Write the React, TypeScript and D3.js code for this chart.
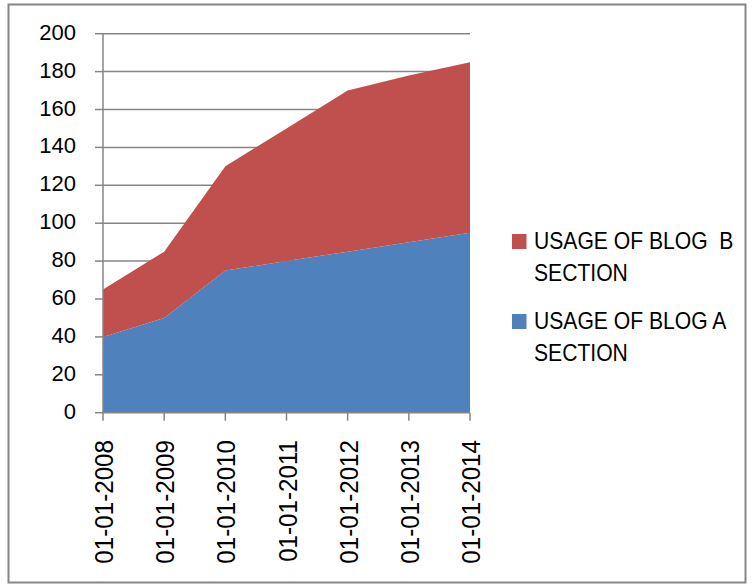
import React from "react";
import * as d3 from "d3";

const categories = ["01-01-2008", "01-01-2009", "01-01-2010", "01-01-2011", "01-01-2012", "01-01-2013", "01-01-2014"];
const blogA = [40, 50, 75, 80, 85, 90, 95];
const blogB = [25, 35, 55, 70, 85, 88, 90];
const yTicks = [0, 20, 40, 60, 80, 100, 120, 140, 160, 180, 200];
const seriesNames = ["USAGE OF BLOG A", "USAGE OF BLOG  B"];
const colors = ["#4F81BD", "#C0504D"];

const W = 752;
const H = 587;
const left = 103;
const right = 470;
const top = 33.7;
const bottom = 412.7;
const font = "'Liberation Sans', Arial, sans-serif";

export default function App() {
  const x = d3.scalePoint<string>().domain(categories).range([left, right]);
  const y = d3.scaleLinear().domain([0, 200]).range([bottom, top]);
  const rows = categories.map((c, i) => ({ c, a: blogA[i], b: blogB[i] }));
  const stack = d3.stack<any>().keys(["a", "b"])(rows);
  const area = d3
    .area<any>()
    .x((d) => x(d.data.c) as number)
    .y0((d) => y(d[0]))
    .y1((d) => y(d[1]));

  const legendItems = [
    { name: seriesNames[1], color: colors[1], y: 234 },
    { name: seriesNames[0], color: colors[0], y: 314 },
  ];

  return (
    <svg width={W} height={H} style={{ position: "absolute", left: 0, top: 0, background: "#fff" }}>
      <rect x={8.5} y={4.5} width={737} height={578} fill="#fff" stroke="#868686" strokeWidth={2} />
      {yTicks.map((t) => (
        <g key={t}>
          {t > 0 && <line x1={left} x2={right} y1={y(t)} y2={y(t)} stroke="#868686" strokeWidth={1.5} />}
          <line x1={95} x2={left} y1={y(t)} y2={y(t)} stroke="#868686" strokeWidth={1.5} />
        </g>
      ))}
      {stack.map((s, i) => (
        <path key={i} d={area(s) as string} fill={colors[i]} />
      ))}
      <line x1={left} x2={left} y1={top} y2={bottom} stroke="#868686" strokeWidth={1.5} />
      <line x1={left} x2={right} y1={bottom} y2={bottom} stroke="#868686" strokeWidth={1.5} />
      {categories.map((c) => (
        <line key={c} x1={x(c)} x2={x(c)} y1={bottom} y2={bottom + 8} stroke="#868686" strokeWidth={1.5} />
      ))}
      {yTicks.map((t) => (
        <text key={t} x={76} y={y(t) + 6} textAnchor="end" fontFamily={font} fontSize={22} fill="#000">
          {t}
        </text>
      ))}
      {categories.map((c) => (
        <text
          key={c}
          transform={`translate(${(x(c) as number) + 10},440) rotate(-90) scale(0.93,1)`}
          textAnchor="end"
          fontFamily={font}
          fontSize={26}
          fill="#000"
        >
          {c}
        </text>
      ))}
      {legendItems.map((it) => (
        <g key={it.name}>
          <rect x={512} y={it.y} width={14.5} height={15} fill={it.color} />
          <text
            transform={`translate(534,${it.y + 15}) scale(0.88,1)`}
            fontFamily={font}
            fontSize={24}
            fill="#000"
            style={{ whiteSpace: "pre" }}
          >
            {it.name}
          </text>
          <text
            transform={`translate(534,${it.y + 47}) scale(0.88,1)`}
            fontFamily={font}
            fontSize={24}
            fill="#000"
          >
            SECTION
          </text>
        </g>
      ))}
    </svg>
  );
}
